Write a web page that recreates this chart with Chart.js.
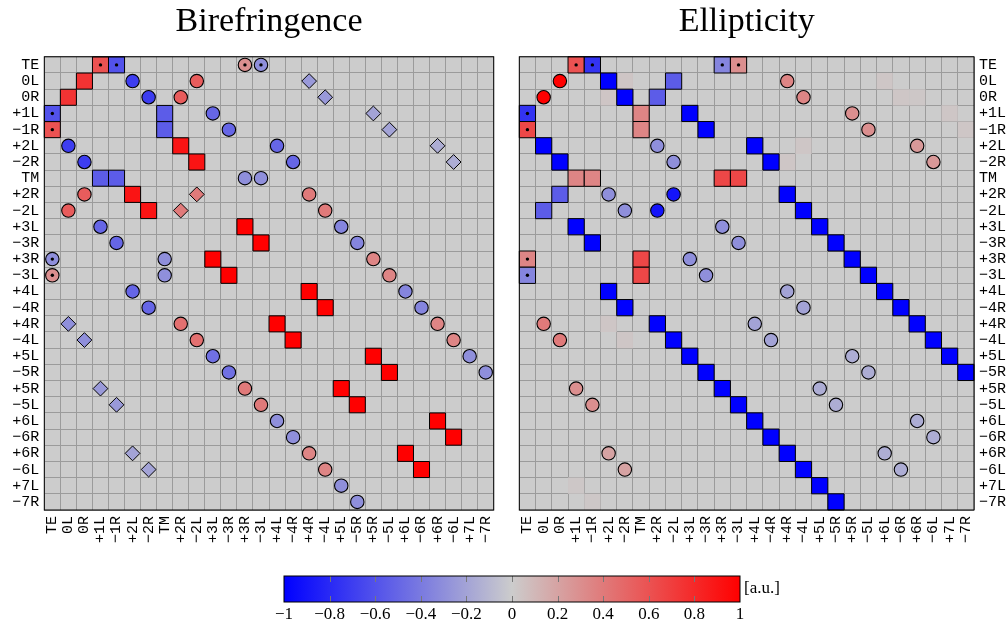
<!DOCTYPE html>
<html>
<head>
<meta charset="utf-8">
<script src="https://cdn.jsdelivr.net/npm/chart.js@4.4.1/dist/chart.umd.min.js"></script>
<style>
  body { margin: 0; background: #fff; width: 1008px; height: 624px; overflow: hidden; position: relative; }
  .box { position: absolute; }
</style>
</head>
<body>
<div class="box" style="left:0;top:0;width:510px;height:560px"><canvas id="bire"></canvas></div>
<div class="box" style="left:505px;top:0;width:503px;height:560px"><canvas id="elli"></canvas></div>
<div class="box" style="left:260px;top:565px;width:560px;height:59px"><canvas id="cbar"></canvas></div>
<script>
// mode labels (rows and columns of both matrices)
const modes = ['TE','0L','0R','+1L','-1R','+2L','-2R','TM','+2R','-2L','+3L','-3R','+3R','-3L',
  '+4L','-4R','+4R','-4L','+5L','-5R','+5R','-5L','+6L','-6R','+6R','-6L','+7L','-7R'];
const cbarTicks = [-1, -0.8, -0.6, -0.4, -0.2, 0, 0.2, 0.4, 0.6, 0.8, 1];

// [column, row, value]
const biSquares = [
  ['+1L','TE',0.6],['-1R','TE',-0.6],
  ['0R','0L',0.75],['0L','0R',0.75],
  ['TE','+1L',-0.6],['TM','+1L',-0.55],['TE','-1R',0.6],['TM','-1R',-0.55],
  ['+2R','+2L',0.9],['-2L','-2R',0.9],
  ['+1L','TM',-0.55],['-1R','TM',-0.55],
  ['+2L','+2R',0.9],['-2R','-2L',0.9],
  ['+3R','+3L',1],['-3L','-3R',1],['+3L','+3R',1],['-3R','-3L',1],
  ['+4R','+4L',1],['-4L','-4R',1],['+4L','+4R',1],['-4R','-4L',1],
  ['+5R','+5L',1],['-5L','-5R',1],['+5L','+5R',1],['-5R','-5L',1],
  ['+6R','+6L',1],['-6L','-6R',1],['+6L','+6R',1],['-6R','-6L',1]
];
const biCircles = [
  ['+3R','TE',0.3],['-3L','TE',-0.3],
  ['+2L','0L',-0.7],['-2L','0L',0.55],['-2R','0R',-0.7],['+2R','0R',0.55],
  ['+3L','+1L',-0.5],['-3R','-1R',-0.5],
  ['0L','+2L',-0.7],['+4L','+2L',-0.5],['0R','-2R',-0.7],['-4R','-2R',-0.5],
  ['+3R','TM',-0.3],['-3L','TM',-0.3],
  ['0R','+2R',0.55],['+4R','+2R',0.4],['0L','-2L',0.55],['-4L','-2L',0.4],
  ['+1L','+3L',-0.5],['+5L','+3L',-0.35],['-1R','-3R',-0.5],['-5R','-3R',-0.35],
  ['TE','+3R',-0.3],['TM','+3R',-0.3],['+5R','+3R',0.35],
  ['TE','-3L',0.3],['TM','-3L',-0.3],['-5L','-3L',0.35],
  ['+2L','+4L',-0.5],['+6L','+4L',-0.35],['-2R','-4R',-0.5],['-6R','-4R',-0.35],
  ['+2R','+4R',0.45],['+6R','+4R',0.35],['-2L','-4L',0.45],['-6L','-4L',0.35],
  ['+3L','+5L',-0.45],['+7L','+5L',-0.3],['-3R','-5R',-0.45],['-7R','-5R',-0.3],
  ['+3R','+5R',0.4],['-3L','-5L',0.4],
  ['+4L','+6L',-0.3],['-4R','-6R',-0.3],['+4R','+6R',0.35],['-4L','-6L',0.35],
  ['+5L','+7L',-0.3],['-5R','-7R',-0.3]
];
const biDiamonds = [
  ['+4R','0L',-0.25],['-4L','0R',-0.25],['+5R','+1L',-0.2],['-5L','-1R',-0.2],
  ['+6R','+2L',-0.15],['-6L','-2R',-0.15],['-2L','+2R',0.4],['+2R','-2L',0.4],
  ['0L','+4R',-0.3],['0R','-4L',-0.3],['+1L','+5R',-0.25],['-1R','-5L',-0.25],
  ['+2L','+6R',-0.2],['-2R','-6L',-0.2]
];
const elSquares = [
  ['+1L','TE',0.6],['-1R','TE',-0.75],['+3R','TE',-0.35],['-3L','TE',0.3],
  ['+2L','0L',-1],['-2L','0L',-0.55],['-2R','0R',-1],['+2R','0R',-0.55],
  ['TE','+1L',-0.75],['TM','+1L',0.35],['+3L','+1L',-1],
  ['TE','-1R',0.65],['TM','-1R',0.35],['-3R','-1R',-1],
  ['0L','+2L',-1],['+4L','+2L',-1],['0R','-2R',-1],['-4R','-2R',-1],
  ['+1L','TM',0.35],['-1R','TM',0.35],['+3R','TM',0.65],['-3L','TM',0.65],
  ['0R','+2R',-0.55],['+4R','+2R',-1],['0L','-2L',-0.55],['-4L','-2L',-1],
  ['+1L','+3L',-1],['+5L','+3L',-1],['-1R','-3R',-1],['-5R','-3R',-1],
  ['TE','+3R',0.35],['TM','+3R',0.65],['+5R','+3R',-1],
  ['TE','-3L',-0.35],['TM','-3L',0.65],['-5L','-3L',-1],
  ['+2L','+4L',-1],['+6L','+4L',-1],['-2R','-4R',-1],['-6R','-4R',-1],
  ['+2R','+4R',-1],['+6R','+4R',-1],['-2L','-4L',-1],['-6L','-4L',-1],
  ['+3L','+5L',-1],['+7L','+5L',-1],['-3R','-5R',-1],['-7R','-5R',-1],
  ['+3R','+5R',-1],['-3L','-5L',-1],
  ['+4L','+6L',-1],['-4R','-6R',-1],['+4R','+6R',-1],['-4L','-6L',-1],
  ['+5L','+7L',-1],['-5R','-7R',-1]
];
const elCircles = [
  ['0R','0L',1],['+4R','0L',0.35],['0L','0R',1],['-4L','0R',0.35],
  ['+5R','+1L',0.3],['-5L','-1R',0.3],
  ['+2R','+2L',-0.3],['+6R','+2L',0.25],['-2L','-2R',-0.3],['-6L','-2R',0.25],
  ['+2L','+2R',-0.3],['-2L','+2R',-0.9],['-2R','-2L',-0.3],['+2R','-2L',-0.9],
  ['+3R','+3L',-0.3],['-3L','-3R',-0.3],['+3L','+3R',-0.3],['-3R','-3L',-0.3],
  ['+4R','+4L',-0.2],['-4L','-4R',-0.2],
  ['0L','+4R',0.4],['+4L','+4R',-0.2],['0R','-4L',0.4],['-4R','-4L',-0.2],
  ['+5R','+5L',-0.15],['-5L','-5R',-0.15],
  ['+1L','+5R',0.3],['+5L','+5R',-0.15],['-1R','-5L',0.3],['-5R','-5L',-0.15],
  ['+6R','+6L',-0.15],['-6L','-6R',-0.15],
  ['+2L','+6R',0.2],['+6L','+6R',-0.15],['-2R','-6L',0.2],['-6R','-6L',-0.15]
];
const elFaint = [
  ['-2R','0L',0.035],['+2L','0R',0.035],['+6L','0L',0.03],['-6R','0R',0.03],['+6R','0R',0.025],
  ['+7L','+1L',0.03],['-7R','-1R',0.03],['-4L','+2L',0.03],['+4R','-2R',0.03],
  ['-2R','-4L',0.03],['+2L','+4R',0.03],['+1L','+7L',0.025],['-1R','-7R',0.025]
];
const dotted = [['+1L','TE'],['-1R','TE'],['+3R','TE'],['-3L','TE'],['TE','+1L'],['TE','-1R'],['TE','+3R'],['TE','-3L']];

const GRID = 'rgb(155,155,155)';
const MID = 204;
const tickFont = { family: '"Liberation Mono", monospace', size: 15 };
const serif = '"Liberation Serif", serif';

function cmap(v) {
  const t = Math.min(1, Math.abs(v));
  const lo = Math.round(MID * (1 - t)), hi = Math.round(MID + (255 - MID) * t);
  return v < 0 ? `rgb(${lo},${lo},${hi})` : `rgb(${hi},${lo},${lo})`;
}
const lab = s => s.replace('-', '\u2212');
const cell = c => c.chartArea ? (c.chartArea.right - c.chartArea.left) / modes.length : 16;

function layer(list, style, radius, border) {
  return {
    data: list.map(([x, y, v]) => ({ x, y, v })),
    pointStyle: style,
    pointRadius: radius,
    pointHoverRadius: radius,
    pointBackgroundColor: c => cmap(c.raw.v),
    pointBorderColor: '#000',
    pointBorderWidth: border
  };
}
function dots() {
  return { data: dotted.map(([x, y]) => ({ x, y, v: 0 })), pointStyle: 'circle', pointRadius: 1.7,
    pointBackgroundColor: '#000', pointBorderWidth: 0 };
}
const sq = c => cell(c.chart) / Math.SQRT2;

const frame = {
  id: 'frame',
  beforeDraw(chart) {
    const { ctx, chartArea: a } = chart;
    ctx.save();
    ctx.fillStyle = cmap(0);
    ctx.fillRect(a.left, a.top, a.right - a.left, a.bottom - a.top);
    ctx.restore();
  },
  afterDraw(chart) {
    const { ctx, chartArea: a } = chart;
    ctx.save();
    ctx.strokeStyle = '#000';
    ctx.lineWidth = 1;
    ctx.strokeRect(a.left, a.top, a.right - a.left, a.bottom - a.top);
    ctx.restore();
  }
};

function panel(id, title, datasets, yPos) {
  return new Chart(document.getElementById(id), {
    type: 'scatter',
    data: { datasets },
    options: {
      responsive: true, maintainAspectRatio: false, animation: false, events: [],
      layout: { padding: yPos === 'left' ? { left: 0, right: 11 } : { left: 14.3, right: 0 } },
      plugins: {
        legend: { display: false }, tooltip: { enabled: false },
        title: { display: true, text: title, fullSize: false, color: '#000',
          font: { family: serif, size: 34, weight: 'normal' }, padding: { top: 2, bottom: 14 } }
      },
      scales: {
        x: {
          type: 'category', labels: modes, offset: true,
          grid: { offset: true, color: GRID, drawTicks: false }, border: { display: false },
          ticks: { autoSkip: false, minRotation: 90, maxRotation: 90, padding: 6, color: '#000', font: tickFont,
            callback(v) { return lab(this.getLabelForValue(v)); } },
          afterFit(s) { s.height = 50; }
        },
        y: {
          type: 'category', labels: modes, offset: true, position: yPos,
          grid: { offset: true, color: GRID, drawTicks: false }, border: { display: false },
          ticks: { autoSkip: false, padding: 5, color: '#000', font: tickFont,
            callback(v) { return lab(this.getLabelForValue(v)); } },
          afterFit(s) { s.width = yPos === 'left' ? 44.3 : 34; }
        }
      }
    },
    plugins: [frame]
  });
}

panel('bire', 'Birefringence', [
  dots(),
  layer(biDiamonds, 'rectRot', 7.4, 1),
  layer(biCircles, 'circle', 6.7, 1.1),
  layer(biSquares, 'rect', sq, 1)
], 'left');

panel('elli', 'Ellipticity', [
  dots(),
  layer(elCircles, 'circle', 6.7, 1.1),
  layer(elSquares, 'rect', sq, 1),
  layer(elFaint, 'rect', sq, 0)
], 'right');

// colour bar
const cbarDraw = {
  id: 'cbarDraw',
  beforeDraw(chart) {
    const { ctx, chartArea: a } = chart;
    const x = chart.scales.x;
    const g = ctx.createLinearGradient(a.left, 0, a.right, 0);
    cbarTicks.forEach(v => g.addColorStop((x.getPixelForValue(v) - a.left) / (a.right - a.left), cmap(v)));
    ctx.save();
    ctx.fillStyle = g;
    ctx.fillRect(a.left, a.top, a.right - a.left, a.bottom - a.top);
    ctx.strokeStyle = 'rgb(120,120,120)';
    ctx.lineWidth = 1;
    cbarTicks.slice(1, -1).forEach(v => {
      const px = Math.round(x.getPixelForValue(v)) + 0.5;
      ctx.beginPath();
      ctx.moveTo(px, a.top); ctx.lineTo(px, a.top + 6);
      ctx.moveTo(px, a.bottom - 6); ctx.lineTo(px, a.bottom);
      ctx.stroke();
    });
    ctx.strokeStyle = '#000';
    ctx.strokeRect(a.left, a.top, a.right - a.left, a.bottom - a.top);
    ctx.fillStyle = '#000';
    ctx.font = '17px ' + serif;
    ctx.textBaseline = 'middle';
    ctx.fillText('[a.u.]', a.right + 4, (a.top + a.bottom) / 2);
    ctx.restore();
  }
};

new Chart(document.getElementById('cbar'), {
  type: 'scatter',
  data: { datasets: [] },
  options: {
    responsive: true, maintainAspectRatio: false, animation: false, events: [],
    layout: { padding: { left: 24, right: 80, top: 11, bottom: 0 } },
    plugins: { legend: { display: false }, tooltip: { enabled: false } },
    scales: {
      x: {
        type: 'linear', min: -1, max: 1,
        grid: { display: false, drawTicks: false }, border: { display: false },
        afterBuildTicks(s) { s.ticks = cbarTicks.map(value => ({ value })); },
        ticks: { padding: 2, color: '#000', font: { family: serif, size: 17 },
          callback: v => String(Number(v.toFixed(1))).replace('-', '\u2212') },
        afterFit(s) { s.height = 22; }
      },
      y: { display: false, min: 0, max: 1 }
    }
  },
  plugins: [cbarDraw]
});
</script>
</body>
</html>
